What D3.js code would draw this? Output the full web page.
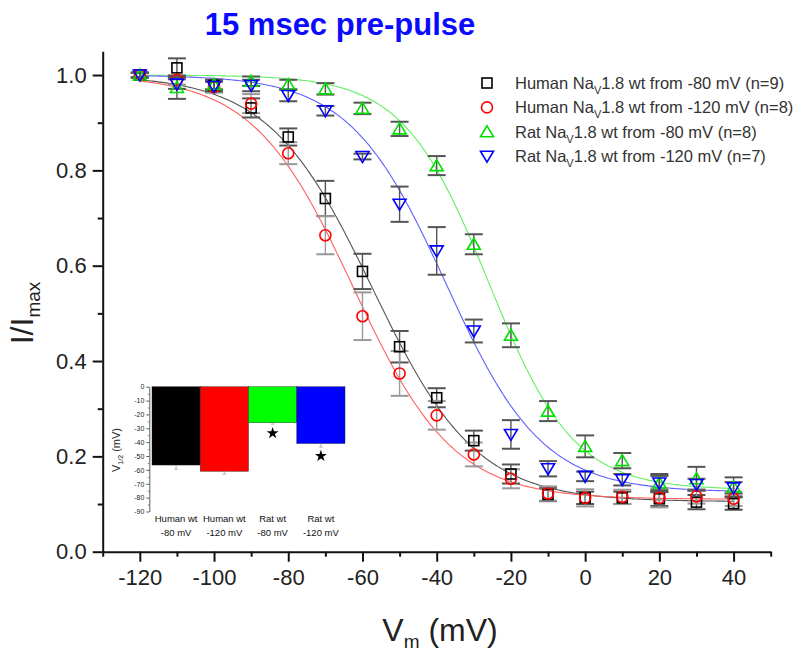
<!DOCTYPE html>
<html>
<head>
<meta charset="utf-8">
<script src="https://cdn.jsdelivr.net/npm/d3@7/dist/d3.min.js"></script>
<style>
  html, body { margin: 0; padding: 0; background: #fff; }
  svg { display: block; font-family: "Liberation Sans", Arial, sans-serif; }
</style>
</head>
<body>
<svg id="chart" width="809" height="652"></svg>
<script>
// Test potentials (mV)
const voltages = [-120, -110, -100, -90, -80, -70, -60, -50, -40, -30, -20, -10, 0, 10, 20, 30, 40];

// Normalised current I/Imax per series, with SEM
const humanFrom80     = [1.0, 1.015, 0.978, 0.931, 0.870, 0.741, 0.588, 0.430, 0.323, 0.233, 0.163, 0.120, 0.113, 0.113, 0.111, 0.104, 0.101];
const humanFrom80Err  = [0.005, 0.02, 0.012, 0.02, 0.018, 0.037, 0.037, 0.033, 0.02, 0.021, 0.02, 0.014, 0.013, 0.013, 0.015, 0.015, 0.013];
const humanFrom120    = [1.0, 0.99, 0.975, 0.940, 0.836, 0.664, 0.494, 0.374, 0.286, 0.204, 0.153, 0.122, 0.113, 0.115, 0.113, 0.116, 0.111];
const humanFrom120Err = [0.005, 0.01, 0.012, 0.02, 0.023, 0.04, 0.05, 0.047, 0.03, 0.025, 0.02, 0.015, 0.018, 0.015, 0.02, 0.015, 0.015];
const ratFrom80       = [1.0, 0.974, 0.98, 0.987, 0.980, 0.971, 0.930, 0.887, 0.810, 0.645, 0.454, 0.295, 0.221, 0.191, 0.144, 0.153, 0.136];
const ratFrom80Err    = [0.005, 0.024, 0.01, 0.01, 0.01, 0.012, 0.012, 0.015, 0.02, 0.021, 0.025, 0.021, 0.023, 0.016, 0.019, 0.025, 0.02];
const ratFrom120      = [1.0, 0.981, 0.976, 0.978, 0.957, 0.925, 0.829, 0.729, 0.631, 0.463, 0.246, 0.174, 0.158, 0.151, 0.144, 0.141, 0.134];
const ratFrom120Err   = [0.005, 0.01, 0.01, 0.012, 0.012, 0.01, 0.006, 0.037, 0.05, 0.024, 0.03, 0.016, 0.01, 0.012, 0.015, 0.012, 0.012];

// Boltzmann fit parameters per series
const fitHalf   = [-57.3, -62.5, -26, -37.5];
const fitSlope  = [14, 13.5, 11.5, 13];
const fitBottom = [0.105, 0.11, 0.13, 0.125];

// Legend text (species, holding potential, n)
const seriesSpecies = ["Human", "Human", "Rat", "Rat"];
const seriesHolding = ["-80", "-120", "-80", "-120"];
const seriesN       = [9, 8, 8, 7];
const seriesColors  = ["#000000", "#ff0000", "#00e000", "#0000ff"];
const curveColors   = ["#555555", "#ff6060", "#60f060", "#6060ff"];
const errColors     = ["#555555", "#999999", "#555555", "#555555"];
const seriesShapes  = ["square", "circle", "triangleUp", "triangleDown"];

// Axis ticks
const xTicks = [-120, -100, -80, -60, -40, -20, 0, 20, 40];
const xMinorTicks = [-130, -110, -90, -70, -50, -30, -10, 10, 30, 50];
const yTicks = [0, 0.2, 0.4, 0.6, 0.8, 1.0];
const yMinorTicks = [0.1, 0.3, 0.5, 0.7, 0.9];

// Inset: V1/2 summary
const insetLine1 = ["Human wt", "Human wt", "Rat wt", "Rat wt"];
const insetLine2 = ["-80 mV", "-120 mV", "-80 mV", "-120 mV"];
const v12      = [-56.5, -61, -26, -41];
const v12Err   = [3, 2, 1, 2.5];
const v12Star  = [false, false, true, true];
const insetColors = ["#000000", "#ff0000", "#00ff00", "#0000ff"];
const insetTicks = [0, -10, -20, -30, -40, -50, -60, -70, -80, -90];
const insetMinor = [-5, -15, -25, -35, -45, -55, -65, -75, -85];

const seriesValues = [humanFrom80, humanFrom120, ratFrom80, ratFrom120];
const seriesErrors = [humanFrom80Err, humanFrom120Err, ratFrom80Err, ratFrom120Err];

const svg = d3.select("#chart");

const x = d3.scaleLinear().domain([-130, 50]).range([102.7, 770.7]);
const y = d3.scaleLinear().domain([0, 1.05]).range([551.7, 51.2]);

// Plain hyphen-minus labels
const intLabel = d => String(d);

// Title
svg.append("text")
  .attr("x", 340).attr("y", 35)
  .attr("text-anchor", "middle")
  .attr("font-weight", "bold")
  .attr("font-size", 31)
  .attr("fill", "#0a0aff")
  .text("15 msec pre-pulse");

// Axes
const xAxis = svg.append("g").attr("transform", `translate(0,${y(0)})`)
  .call(d3.axisBottom(x).tickValues(xTicks).tickSize(10).tickSizeOuter(0).tickPadding(8).tickFormat(intLabel));
svg.append("g").attr("transform", `translate(0,${y(0)})`)
  .call(d3.axisBottom(x).tickValues(xMinorTicks).tickSize(5).tickSizeOuter(0).tickFormat(""))
  .select(".domain").remove();

const yAxis = svg.append("g").attr("transform", `translate(${x(-130)},0)`)
  .call(d3.axisLeft(y).tickValues(yTicks).tickSize(10).tickSizeOuter(0).tickPadding(6).tickFormat(d3.format(".1f")));
svg.append("g").attr("transform", `translate(${x(-130)},0)`)
  .call(d3.axisLeft(y).tickValues(yMinorTicks).tickSize(5).tickSizeOuter(0).tickFormat(""))
  .select(".domain").remove();

svg.selectAll(".domain").attr("stroke", "#111").attr("stroke-width", 2);
svg.selectAll(".tick line").attr("stroke", "#111").attr("stroke-width", 2);
xAxis.selectAll(".tick text").attr("font-size", 22).attr("fill", "#222")
  .attr("font-family", "Liberation Sans, Arial, sans-serif");
yAxis.selectAll(".tick text").attr("font-size", 22).attr("fill", "#222")
  .attr("font-family", "Liberation Sans, Arial, sans-serif");

// Axis titles
const xt = svg.append("text").attr("x", 440).attr("y", 641).attr("text-anchor", "middle")
  .attr("font-size", 32).attr("fill", "#222");
xt.append("tspan").text("V");
xt.append("tspan").attr("font-size", 19).attr("dy", 7).text("m");
xt.append("tspan").attr("dy", -7).text(" (mV)");

const yt = svg.append("text").attr("transform", "translate(33,313) rotate(-90)")
  .attr("text-anchor", "middle").attr("font-size", 32).attr("fill", "#222");
yt.append("tspan").text("I/I");
yt.append("tspan").attr("font-size", 19).attr("dy", 7).text("max");

// Fit curves
const vGrid = d3.range(-120, 40.01, 0.5);
const line = d3.line().x(d => x(d[0])).y(d => y(d[1])).curve(d3.curveLinear);
seriesValues.forEach((vals, s) => {
  const pts = vGrid.map(v => [v, fitBottom[s] + (1 - fitBottom[s]) / (1 + Math.exp((v - fitHalf[s]) / fitSlope[s]))]);
  svg.append("path").datum(pts).attr("d", line)
    .attr("fill", "none").attr("stroke", curveColors[s]).attr("stroke-width", 1.1);
});

// Marker drawing
function marker(g, shape, color, cx, cy) {
  if (shape === "square") {
    g.append("rect").attr("x", cx - 5).attr("y", cy - 5).attr("width", 10).attr("height", 10)
      .attr("fill", "none").attr("stroke", color).attr("stroke-width", 1.6);
  } else if (shape === "circle") {
    g.append("circle").attr("cx", cx).attr("cy", cy).attr("r", 5.5)
      .attr("fill", "none").attr("stroke", color).attr("stroke-width", 1.6);
  } else if (shape === "triangleUp") {
    g.append("path").attr("d", `M${cx},${cy - 6} L${cx + 6.5},${cy + 5} L${cx - 6.5},${cy + 5} Z`)
      .attr("fill", "none").attr("stroke", color).attr("stroke-width", 1.6);
  } else {
    g.append("path").attr("d", `M${cx},${cy + 6} L${cx + 6.5},${cy - 5} L${cx - 6.5},${cy - 5} Z`)
      .attr("fill", "none").attr("stroke", color).attr("stroke-width", 1.6);
  }
}

// Error bars then markers
seriesValues.forEach((vals, s) => {
  const g = svg.append("g");
  vals.forEach((v, i) => {
    const cx = x(voltages[i]);
    const e = seriesErrors[s][i];
    g.append("line").attr("x1", cx).attr("x2", cx).attr("y1", y(v - e)).attr("y2", y(v + e))
      .attr("stroke", errColors[s]).attr("stroke-width", 1.4);
    [v - e, v + e].forEach(t => {
      g.append("line").attr("x1", cx - 9).attr("x2", cx + 9).attr("y1", y(t)).attr("y2", y(t))
        .attr("stroke", errColors[s]).attr("stroke-width", 2);
    });
  });
});
seriesValues.forEach((vals, s) => {
  const g = svg.append("g");
  vals.forEach((v, i) => marker(g, seriesShapes[s], seriesColors[s], x(voltages[i]), y(v)));
});

// Legend
seriesSpecies.forEach((sp, s) => {
  const cy = 83 + s * 24.4;
  marker(svg, seriesShapes[s], seriesColors[s], 487, cy);
  const t = svg.append("text").attr("x", 515).attr("y", cy + 6).attr("font-size", 16.5).attr("fill", "#333");
  t.append("tspan").text(`${sp} Na`);
  t.append("tspan").attr("font-size", 11).attr("dy", 5).text("V");
  t.append("tspan").attr("dy", -5).text(`1.8 wt from ${seriesHolding[s]} mV (n=${seriesN[s]})`);
});

// Inset bar chart of V1/2
const iy = d3.scaleLinear().domain([-90, 0]).range([511.5, 386.7]);
const ix = d3.scaleBand().domain(d3.range(v12.length)).range([152, 345]).padding(0);
const inset = svg.append("g");

inset.append("g").attr("transform", "translate(149.3,0)")
  .call(d3.axisLeft(iy).tickValues(insetTicks).tickSize(3).tickSizeOuter(0).tickPadding(2).tickFormat(intLabel))
  .call(g => g.selectAll("text").attr("font-size", 7).attr("fill", "#222"))
  .call(g => g.selectAll("line,path").attr("stroke", "#333").attr("stroke-width", 0.8));
inset.append("g").attr("transform", "translate(149.3,0)")
  .call(d3.axisLeft(iy).tickValues(insetMinor).tickSize(1.5).tickSizeOuter(0).tickFormat(""))
  .call(g => g.select(".domain").remove())
  .call(g => g.selectAll("line").attr("stroke", "#333").attr("stroke-width", 0.6));

inset.selectAll("rect.bar").data(v12).join("rect").attr("class", "bar")
  .attr("x", (d, i) => ix(i)).attr("width", ix.bandwidth())
  .attr("y", iy(0)).attr("height", d => iy(d) - iy(0))
  .attr("fill", (d, i) => insetColors[i]).attr("stroke", "#222").attr("stroke-width", 0.4);

inset.selectAll("line.err").data(v12).join("line").attr("class", "err")
  .attr("x1", (d, i) => ix(i) + ix.bandwidth() / 2).attr("x2", (d, i) => ix(i) + ix.bandwidth() / 2)
  .attr("y1", d => iy(d)).attr("y2", (d, i) => iy(d - v12Err[i]))
  .attr("stroke", "#999").attr("stroke-width", 0.7);
inset.selectAll("line.cap").data(v12).join("line").attr("class", "cap")
  .attr("x1", (d, i) => ix(i) + ix.bandwidth() / 2 - 2).attr("x2", (d, i) => ix(i) + ix.bandwidth() / 2 + 2)
  .attr("y1", (d, i) => iy(d - v12Err[i])).attr("y2", (d, i) => iy(d - v12Err[i]))
  .attr("stroke", "#999").attr("stroke-width", 0.7);

v12.forEach((d, i) => {
  if (!v12Star[i]) return;
  inset.append("path")
    .attr("d", d3.symbol(d3.symbolStar, 44)())
    .attr("transform", `translate(${ix(i) + ix.bandwidth() / 2},${iy(d - v12Err[i] - 6.5)})`)
    .attr("fill", "#000");
});

v12.forEach((d, i) => {
  const cx = ix(i) + ix.bandwidth() / 2;
  inset.append("text").attr("x", cx).attr("y", 522).attr("text-anchor", "middle")
    .attr("font-size", 9.5).attr("fill", "#111").text(insetLine1[i]);
  inset.append("text").attr("x", cx).attr("y", 536).attr("text-anchor", "middle")
    .attr("font-size", 9.5).attr("fill", "#111").text(insetLine2[i]);
});

const it = inset.append("text").attr("transform", "translate(120,450) rotate(-90)")
  .attr("text-anchor", "middle").attr("font-size", 11).attr("fill", "#222");
it.append("tspan").text("V");
it.append("tspan").attr("font-size", 7).attr("dy", 3).text("1/2");
it.append("tspan").attr("dy", -3).text(" (mV)");
</script>
</body>
</html>
